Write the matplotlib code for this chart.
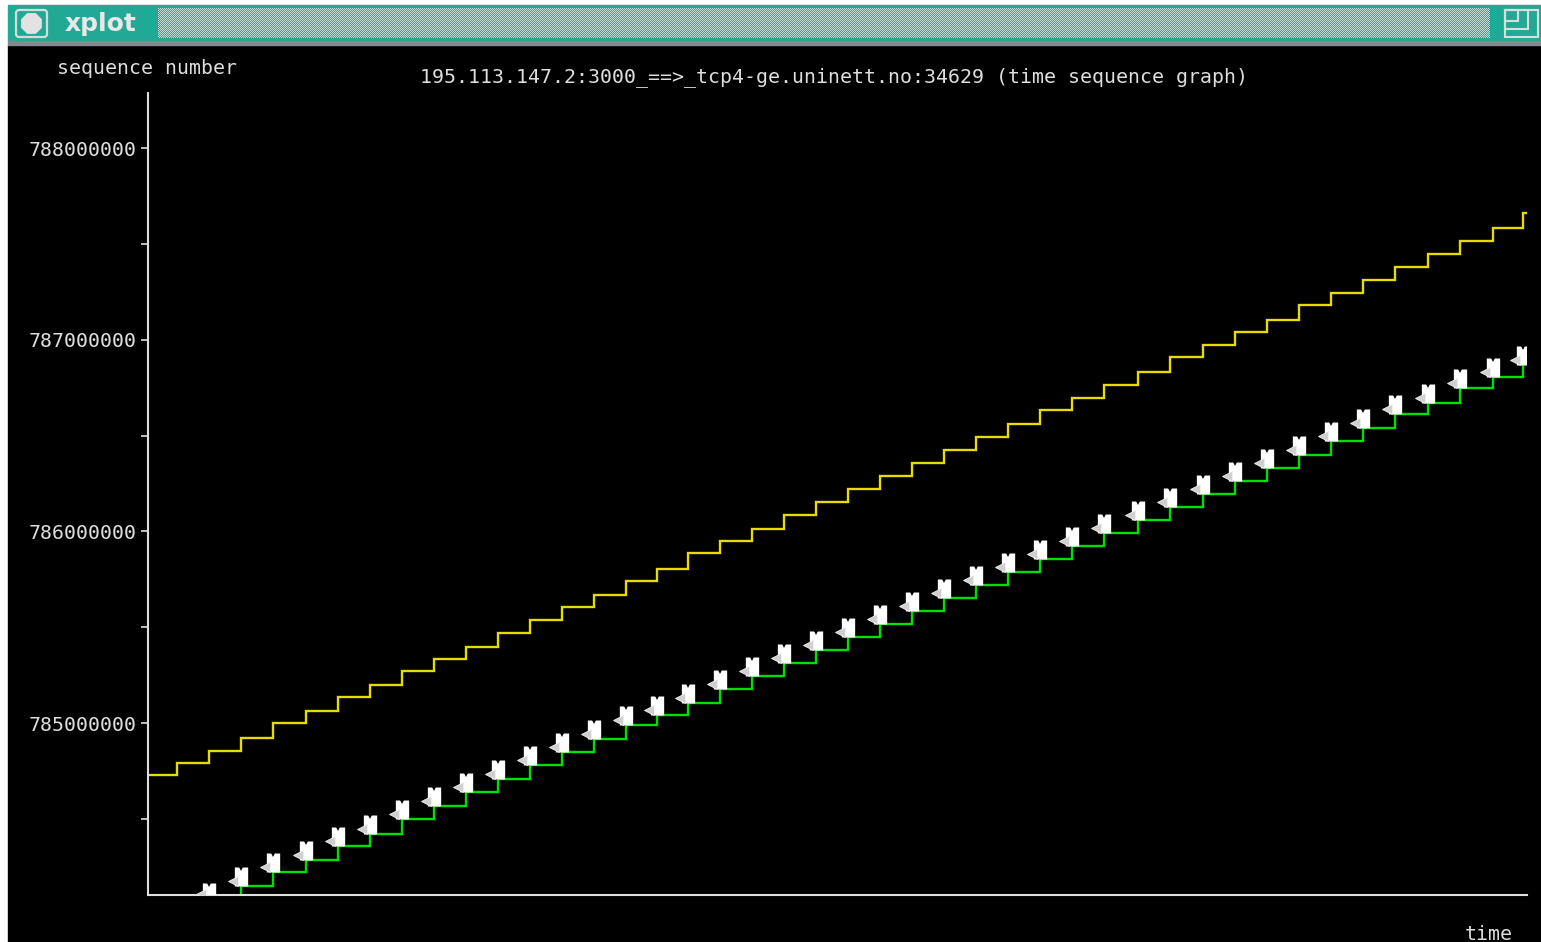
import numpy as np
import matplotlib
matplotlib.use("Agg")
import matplotlib.pyplot as plt
from matplotlib.patches import Rectangle, FancyBboxPatch, RegularPolygon
from matplotlib.transforms import offset_copy

# ---------------------------------------------------------------- data
# time in ms since the start of the plotted interval
window_t = [0, 29, 61, 93, 125, 158, 190, 222, 254, 286, 318, 350, 382, 414,
            446, 478, 509, 540, 572, 604, 636, 668, 700, 732, 764, 796, 828,
            860, 892, 924, 956, 990, 1022, 1055, 1087, 1119, 1151, 1183, 1215,
            1247, 1280, 1312, 1345, 1375]
# advertised window edge (ack + receive window)
window_seq = [784729000, 784791000, 784854000, 784922000, 785000000, 785063000,
              785136000, 785198000, 785271000, 785334000, 785397000, 785470000,
              785537000, 785605000, 785668000, 785741000, 785803000, 785887000,
              785950000, 786012000, 786085000, 786153000, 786221000, 786289000,
              786357000, 786424000, 786492000, 786560000, 786633000, 786696000,
              786763000, 786831000, 786910000, 786972000, 787040000, 787103000,
              787181000, 787243000, 787311000, 787379000, 787447000, 787515000,
              787583000, 787661000]

# cumulative acknowledgements
ack_t = [61, 93, 125, 158, 190, 222, 254, 286, 318, 350, 382, 414, 446, 478,
         509, 540, 572, 604, 636, 668, 700, 732, 764, 796, 828, 860, 892, 924,
         956, 990, 1022, 1055, 1087, 1119, 1151, 1183, 1215, 1247, 1280, 1312,
         1345, 1375]
ack_seq = [784060000, 784150000, 784223000, 784285000, 784358000, 784421000,
           784499000, 784567000, 784640000, 784708000, 784781000, 784849000,
           784917000, 784990000, 785042000, 785104000, 785177000, 785245000,
           785313000, 785381000, 785449000, 785517000, 785584000, 785652000,
           785720000, 785788000, 785856000, 785924000, 785991000, 786059000,
           786127000, 786195000, 786263000, 786330000, 786398000, 786471000,
           786539000, 786612000, 786670000, 786748000, 786805000, 786868000]

# data bursts: send time, lowest and highest sequence number in the burst
burst_t = ack_t
burst_lo = [784080000] + ack_seq[1:]
burst_hi = [784165000, 784249000, 784322000, 784384000, 784457000, 784520000,
            784598000, 784666000, 784739000, 784807000, 784880000, 784948000,
            785016000, 785089000, 785141000, 785203000, 785276000, 785344000,
            785412000, 785480000, 785548000, 785616000, 785683000, 785751000,
            785819000, 785887000, 785955000, 786023000, 786090000, 786158000,
            786226000, 786294000, 786362000, 786429000, 786497000, 786570000,
            786638000, 786711000, 786769000, 786847000, 786904000, 786967000]

y_major = [785000000, 786000000, 787000000, 788000000]
y_major_labels = ["785000000", "786000000", "787000000", "788000000"]
y_minor = [784500000, 785500000, 786500000, 787500000]

title = "195.113.147.2:3000_==>_tcp4-ge.uninett.no:34629 (time sequence graph)"

# ---------------------------------------------------------------- style
TEAL = "#22a995"
STIPPLE = "#bfe6de"
FG = "#dedede"
YELLOW = "#e6dc00"
GREEN = "#00e000"
MONO = "DejaVu Sans Mono"
plt.rcParams["font.family"] = [MONO]

W, H = 1541, 942
fig = plt.figure(figsize=(W / 100, H / 100), dpi=100)
fig.patch.set_facecolor("white")

# window chrome drawn in pixel coordinates (origin top-left)
bg = fig.add_axes([0, 0, 1, 1], zorder=0)
bg.set_xlim(0, W)
bg.set_ylim(H, 0)
bg.axis("off")
bg.add_patch(Rectangle((0, 0), W, H, color="white"))
bg.add_patch(Rectangle((8, 45), W - 8, H - 45, color="black"))
bg.add_patch(Rectangle((8, 5), W - 8, 36, color=TEAL))
bg.add_patch(Rectangle((8, 41), W - 8, 4, color="#7f8b8c"))

# stippled drag area of the title bar
rows, cols = 30, 1332
ii, jj = np.mgrid[0:rows, 0:cols]
checker = ((ii + jj) % 2 == 0)[..., None]
c1 = np.array(matplotlib.colors.to_rgb(TEAL))
c2 = np.array(matplotlib.colors.to_rgb(STIPPLE))
stip = np.where(checker, c2, c1)
fig.figimage(stip, xo=158, yo=H - 38, zorder=1)

# close button
bg.add_patch(FancyBboxPatch((16, 10), 31, 27,
                            boxstyle="round,pad=0,rounding_size=3",
                            fill=False, ec="#d9d9d9", lw=1.6))
bg.add_patch(RegularPolygon((31.5, 23.5), 8, radius=10.5,
                            orientation=np.pi / 8, color="#e2e2e2"))
bg.text(65, 23.5, "xplot", fontsize=18, fontweight="bold", color="#e8e8e8",
        family="DejaVu Sans", va="center", ha="left")

# maximise button
for x0, x1, y1 in [(1505, 1538, 37), (1505, 1528, 29), (1505, 1518, 21)]:
    bg.add_patch(Rectangle((x0, 10), x1 - x0, y1 - 10, fill=False,
                           ec="#dcdcdc", lw=1.5))

bg.text(57, 74, "sequence number", fontsize=14.3, color=FG, ha="left",
        va="baseline")
bg.text(834.5, 82, title, fontsize=14.3, color=FG, ha="center", va="baseline")
bg.text(1513, 940, "time", fontsize=14.3, color=FG, ha="right", va="baseline")

# ---------------------------------------------------------------- plot
ax = fig.add_axes([148 / W, (H - 895) / H, (1527 - 148) / W, (895 - 93) / H],
                  zorder=2)
ax.set_facecolor("none")
ax.set_xlim(0, 1379)
ax.set_ylim(784102600, 788287000)

wt = np.append(window_t, 1379)
ws = np.append(window_seq, window_seq[-1])
ax.plot(wt, ws, drawstyle="steps-post", color=YELLOW, lw=1.7,
        solid_joinstyle="miter")
ax.plot(ack_t, ack_seq, drawstyle="steps-post", color=GREEN, lw=1.7,
        solid_joinstyle="miter")

# data segments: white blocks with arrow-head ears and lower tips
ax.vlines(burst_t, burst_lo, burst_hi, color="white", lw=9.6,
          capstyle="butt", zorder=3)
ax.plot(burst_t, burst_hi, ls="none", marker="v", ms=5.2, mfc="black",
        mec="black", mew=0, zorder=4)
low_tips = offset_copy(ax.transData, fig=fig, x=-8, y=5, units="dots")
ax.plot(burst_t, burst_lo, ls="none", marker="<", ms=7, mfc="#d0d0d0",
        mec="#f0f0f0", mew=0.6, transform=low_tips, zorder=3)

for side in ("top", "right"):
    ax.spines[side].set_visible(False)
for side in ("left", "bottom"):
    ax.spines[side].set_color(FG)
    ax.spines[side].set_linewidth(1.5)

ax.set_xticks([])
ax.set_yticks(y_major, labels=y_major_labels)
ax.set_yticks(y_minor, minor=True)
ax.tick_params(axis="y", which="both", colors=FG, length=5, width=1.2,
               pad=3.5, labelsize=14.3)

fig.savefig("out.png", dpi=100, facecolor="white")
